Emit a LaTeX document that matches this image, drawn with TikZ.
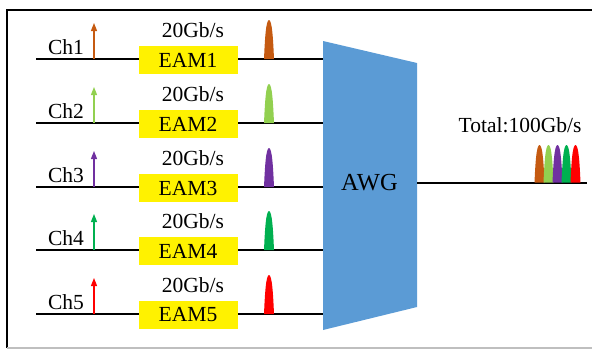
\documentclass[tikz,border=0pt]{standalone}
\usepackage{fontspec}
\setmainfont{Liberation Serif}
\usetikzlibrary{arrows.meta}
\definecolor{corange}{HTML}{C55A11}
\definecolor{clgreen}{HTML}{92D050}
\definecolor{cpurple}{HTML}{7030A0}
\definecolor{cgreen}{HTML}{00B050}
\definecolor{cred}{HTML}{FF0000}
\definecolor{awgblue}{HTML}{5B9BD5}
\tikzset{
  fiber/.style={line width=1.6pt, black},
  eambox/.style={fill=yellow, draw=none, minimum width=99pt, minimum height=28pt, inner sep=0pt, font=\fontsize{21.5}{23}\selectfont},
  lbl/.style={font=\fontsize{21.5}{23}\selectfont, inner sep=0pt, anchor=base},
  carrier/.style={line width=1.3pt, -{Triangle[length=8pt,width=6pt]}},
}
\newcommand{\pulseshape}[4]{% x, base y, top y, color
  \fill[#4] (#1-5,#2) .. controls (#1-4.2,#2-18) and (#1-3.2,#3) .. (#1,#3)
     .. controls (#1+3.2,#3) and (#1+4.2,#2-18) .. (#1+5,#2) -- cycle;
}
\begin{document}
\begin{tikzpicture}[x=1pt,y=-1pt]
\useasboundingbox (0,0) rectangle (592,349);
\clip (0,0) rectangle (592,349);
% frame
\draw[line width=2pt] (600,10) -- (7,10) -- (7,348);
\draw[line width=1.2pt, black!25] (7,348) -- (600,348);
% AWG
\coordinate (awgTL) at (323,41);
\coordinate (awgBL) at (323,330);
\coordinate (awgTR) at (417,63);
\coordinate (awgBR) at (417,307);
\fill[awgblue] (awgTL) -- (awgTR) -- (awgBR) -- (awgBL) -- cycle;
\node[lbl, font=\fontsize{24.5}{26}\selectfont] (awg) at (369.5,190) {AWG};
% output
\coordinate (outA) at (417,183);
\coordinate (outB) at (587,183);
\draw[fiber] (outA) -- (outB);
\node[lbl] (total) at (520,132) {Total:100Gb/s};
\pulseshape{539.5}{182.5}{145}{corange}
\pulseshape{548.5}{182.5}{145}{clgreen}
\pulseshape{557.5}{182.5}{145}{cpurple}
\pulseshape{566.5}{182.5}{145}{cgreen}
\pulseshape{575.5}{182.5}{145}{cred}
% channels
\foreach \i/\y/\c in {1/59/corange, 2/123/clgreen, 3/187/cpurple, 4/250/cgreen, 5/314/cred}{
  \coordinate (s\i) at (36,\y);
  \coordinate (e\i) at (323,\y);
  \draw[fiber] (s\i) -- (e\i);
  \node[eambox] (eam\i) at (188,\y+1) {EAM\i};
  \node[lbl] (rate\i) at (193,\y-22) {20Gb/s};
  \node[lbl] (ch\i) at (66,\y-5) {Ch\i};
  \coordinate (a\i) at (94,\y);
  \coordinate (at\i) at (94,\y-36);
  \draw[carrier, \c] (a\i) -- (at\i);
  \pulseshape{269}{\y}{\y-39}{\c}
}
\end{tikzpicture}
\end{document}
